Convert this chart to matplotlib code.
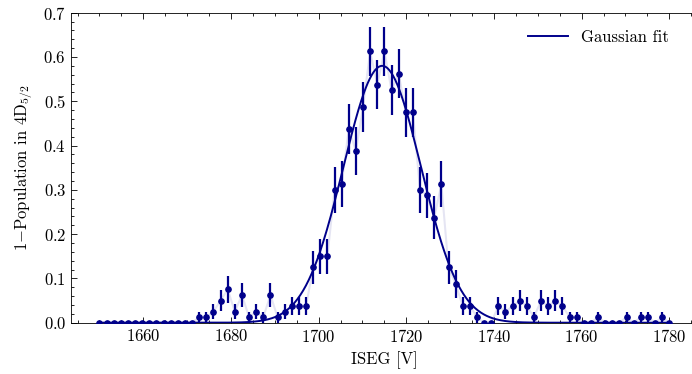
import numpy as np
import matplotlib
matplotlib.use("Agg")
import matplotlib.pyplot as plt
from matplotlib.ticker import AutoMinorLocator

# ---- data ----
voltage = np.linspace(1650, 1780, 81)
population = [
    0, 0, 0, 0, 0, 0, 0, 0, 0, 0, 0, 0, 0, 0,
    0.0125, 0.0125, 0.025, 0.05, 0.075, 0.025, 0.0625, 0.0125, 0.025, 0.0125,
    0.0625, 0.0125, 0.025, 0.0375, 0.0375, 0.0375, 0.125, 0.15, 0.15, 0.3,
    0.3125, 0.4375, 0.3875, 0.4875, 0.6125, 0.5375, 0.6125, 0.525, 0.5625, 0.475,
    0.475, 0.3, 0.2875, 0.2375, 0.3125, 0.125, 0.0875, 0.0375, 0.0375, 0.0125,
    0, 0, 0.0375, 0.025, 0.0375, 0.05, 0.0375, 0.0125, 0.05, 0.0375,
    0.05, 0.0375, 0.0125, 0.0125, 0, 0, 0.0125, 0, 0, 0,
    0.0125, 0, 0.0125, 0.0125, 0, 0.0125, 0,
]
errors = [
    0, 0, 0, 0, 0, 0, 0, 0, 0, 0, 0, 0, 0, 0,
    0.0124, 0.0124, 0.0175, 0.0244, 0.0294, 0.0175, 0.0271, 0.0124, 0.0175, 0.0124,
    0.0271, 0.0124, 0.0175, 0.0212, 0.0212, 0.0212, 0.0370, 0.0399, 0.0399, 0.0512,
    0.0518, 0.0555, 0.0545, 0.0559, 0.0545, 0.0557, 0.0545, 0.0558, 0.0555, 0.0558,
    0.0558, 0.0512, 0.0506, 0.0476, 0.0518, 0.0370, 0.0316, 0.0212, 0.0212, 0.0124,
    0, 0, 0.0212, 0.0175, 0.0212, 0.0244, 0.0212, 0.0124, 0.0244, 0.0212,
    0.0244, 0.0212, 0.0124, 0.0124, 0, 0, 0.0124, 0, 0, 0,
    0.0124, 0, 0.0124, 0.0124, 0, 0.0124, 0,
]
fit_amplitude = 0.58
fit_center = 1714.5
fit_sigma = 8.85

x_ticks = [1660, 1680, 1700, 1720, 1740, 1760, 1780]
y_ticks = [0.0, 0.1, 0.2, 0.3, 0.4, 0.5, 0.6, 0.7]

# ---- style ----
plt.rcParams.update({
    "font.family": "cmr10",
    "mathtext.fontset": "cm",
    "axes.formatter.use_mathtext": True,
    "font.size": 12,
    "axes.linewidth": 0.6,
    "xtick.direction": "in",
    "ytick.direction": "in",
    "xtick.top": True,
    "ytick.right": True,
    "xtick.major.size": 4,
    "ytick.major.size": 4,
    "xtick.minor.size": 2,
    "ytick.minor.size": 2,
    "xtick.major.width": 0.6,
    "ytick.major.width": 0.6,
    "xtick.minor.width": 0.6,
    "ytick.minor.width": 0.6,
    "xtick.minor.visible": True,
    "ytick.minor.visible": True,
})

color = "#00008B"

fig = plt.figure(figsize=(6.92, 3.74), dpi=100)
ax = fig.add_axes([71 / 692, 1 - 322.7 / 374, (697.8 - 71) / 692, (322.7 - 12.7) / 374])

v = np.asarray(voltage)
p = np.asarray(population)
ax.plot(v, p, color=color, alpha=0.1, lw=1.5, zorder=1)
ax.errorbar(v, p, yerr=errors, fmt="o", color=color, ms=3.8, elinewidth=1.6,
            capsize=0, zorder=3)

xf = np.linspace(v.min(), v.max(), 600)
yf = fit_amplitude * np.exp(-(xf - fit_center) ** 2 / (2 * fit_sigma ** 2))
ax.plot(xf, yf, color=color, lw=1.4, label="Gaussian fit", zorder=2)

ax.set_xlim(1643.5, 1786.5)
ax.set_ylim(0, 0.7)
ax.set_xticks(x_ticks)
ax.set_yticks(y_ticks)
ax.xaxis.set_minor_locator(AutoMinorLocator(4))
ax.yaxis.set_minor_locator(AutoMinorLocator(5))

ax.set_xlabel("ISEG [V]", labelpad=5)
ax.set_ylabel(r"$1{-}$Population in 4D$_{5/2}$", labelpad=6)

ax.legend(loc="upper right", frameon=False, handlelength=2.4,
          bbox_to_anchor=(0.978, 0.995))

fig.savefig("out.png", dpi=100)
